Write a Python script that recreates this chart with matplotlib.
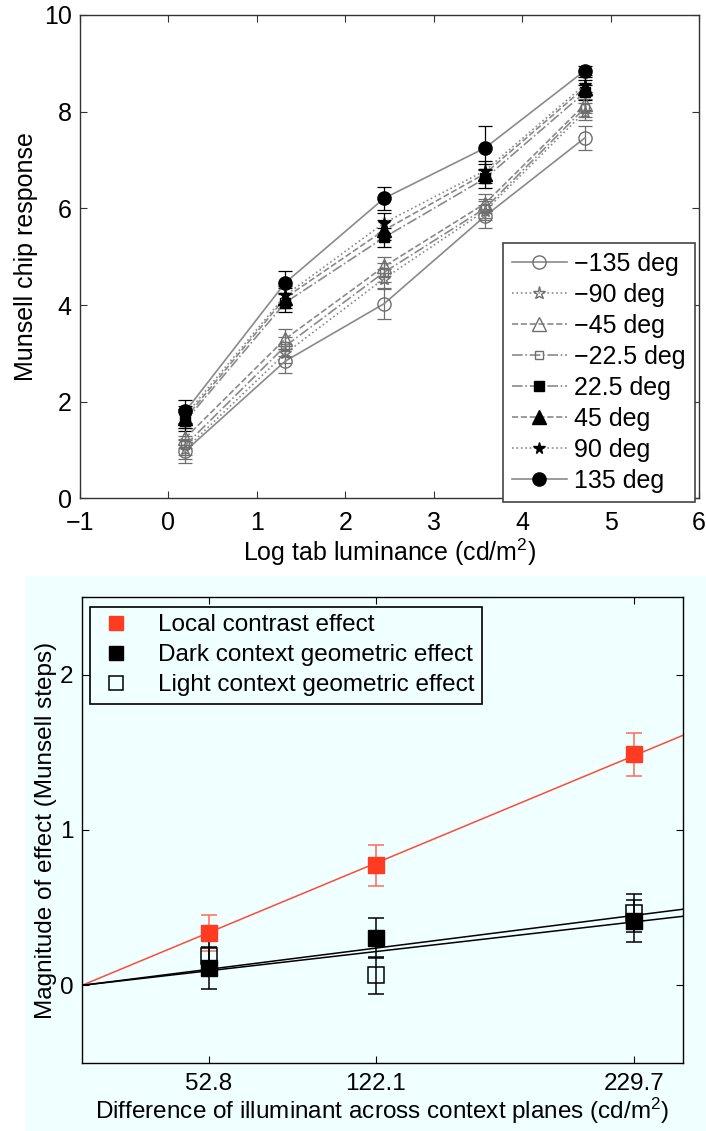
import numpy as np
import matplotlib
matplotlib.use("Agg")
import matplotlib.pyplot as plt
from matplotlib.patches import Rectangle

plt.rcParams["font.family"] = ["Liberation Sans", "DejaVu Sans"]
plt.rcParams["mathtext.default"] = "regular"

W, H = 706, 1131

# --- upper panel: Munsell matches vs tab luminance ---
lum = [0.19, 1.32, 2.44, 3.58, 4.71]
angles = ["\u2212135 deg", "\u221290 deg", "\u221245 deg", "\u221222.5 deg",
          "22.5 deg", "45 deg", "90 deg", "135 deg"]
resp_m135 = [0.98, 2.84, 4.03, 5.84, 7.46]
resp_m90 = [1.02, 3.00, 4.55, 5.95, 8.00]
resp_m45 = [1.25, 3.30, 4.80, 6.10, 8.15]
resp_m22 = [1.10, 3.15, 4.68, 6.00, 8.08]
resp_p22 = [1.60, 4.05, 5.40, 6.62, 8.40]
resp_p45 = [1.66, 4.15, 5.55, 6.72, 8.50]
resp_p90 = [1.72, 4.20, 5.70, 6.78, 8.56]
resp_p135 = [1.80, 4.46, 6.21, 7.25, 8.85]
err_m135 = [0.25, 0.25, 0.31, 0.24, 0.25]
err_m90 = [0.20, 0.20, 0.20, 0.20, 0.18]
err_m45 = [0.20, 0.20, 0.20, 0.20, 0.18]
err_m22 = [0.20, 0.20, 0.20, 0.20, 0.18]
err_p22 = [0.20, 0.20, 0.20, 0.20, 0.15]
err_p45 = [0.20, 0.20, 0.20, 0.20, 0.15]
err_p90 = [0.20, 0.20, 0.20, 0.20, 0.15]
err_p135 = [0.24, 0.24, 0.24, 0.45, 0.10]

# --- lower panel: effect size vs illuminant difference ---
illum = [52.8, 122.1, 229.7]
local_eff = [0.335, 0.773, 1.487]
local_err = [0.115, 0.132, 0.140]
dark_eff = [0.109, 0.305, 0.414]
dark_err = [0.135, 0.127, 0.135]
light_eff = [0.189, 0.064, 0.468]
light_err = [0.120, 0.120, 0.122]

GRAY = "#8a8a8a"
EDGE = "#6e6e6e"
RED = "#ff3b22"
CYAN = "#f0ffff"
FS = 18
FS2 = 17.5


def px_axes(fig, left, top, right, bottom):
    return fig.add_axes([left / W, 1 - bottom / H, (right - left) / W, (bottom - top) / H])


def matlab_ticks(ax, size, color="black"):
    ax.tick_params(direction="in", length=5, width=0.8, top=True, right=True,
                   labelsize=size, colors=color, labelcolor="black", pad=6)
    ax.tick_params(axis="x", pad=9)
    for s in ax.spines.values():
        s.set_color(color)
        s.set_linewidth(1.0)


fig = plt.figure(figsize=(W / 100, H / 100), dpi=100)
fig.patch.set_facecolor("white")
fig.patches.append(Rectangle((25 / W, 0), 1, (H - 576) / H, transform=fig.transFigure,
                             facecolor=CYAN, edgecolor="none", zorder=-5))

# upper panel
ax = px_axes(fig, 80, 15, 699, 498.5)
series = [
    (resp_m135, err_m135, "-", "o", "none", EDGE, 9.5),
    (resp_m90, err_m90, ":", "*", "none", EDGE, 9.5),
    (resp_m45, err_m45, "--", "^", "none", EDGE, 9.5),
    (resp_m22, err_m22, "-.", "s", "none", EDGE, 6),
    (resp_p22, err_p22, "-.", "s", "black", "black", 7),
    (resp_p45, err_p45, "--", "^", "black", "black", 9.5),
    (resp_p90, err_p90, ":", "*", "black", "black", 8.5),
    (resp_p135, err_p135, "-", "o", "black", "black", 9.5),
]
for (ys, es, ls, mk, fc, ec, ms), lab in zip(series, angles):
    ax.errorbar(lum, ys, yerr=es, fmt="none", ecolor=ec, elinewidth=0.9,
                capsize=5, capthick=0.9, zorder=3)
    ax.plot(lum, ys, linestyle=ls, color=GRAY, linewidth=1.2, marker=mk,
            markersize=ms, markerfacecolor=fc, markeredgecolor=ec,
            markeredgewidth=1.0, label=lab, zorder=4)

ax.set_xlim(-1, 6)
ax.set_ylim(0, 10)
ax.set_xticks(range(-1, 7))
ax.set_yticks(range(0, 11, 2))
matlab_ticks(ax, FS, color="#333333")
ax.set_xlabel("Log tab luminance (cd/m$^2$)", fontsize=FS, labelpad=1)
ax.set_ylabel("Munsell chip response", fontsize=FS, labelpad=4)
leg = ax.legend(loc="upper left", bbox_to_anchor=(503 / W, 1 - 243 / H),
                bbox_transform=fig.transFigure, fontsize=FS, frameon=True,
                fancybox=False, edgecolor="#444444", framealpha=1,
                handlelength=2.2, handletextpad=0.3, labelspacing=0.28,
                borderpad=0.35, borderaxespad=0)
leg.get_frame().set_linewidth(1.2)

# lower panel
bx = px_axes(fig, 82, 597, 683, 1063)
bx.set_facecolor(CYAN)
xfit = np.array([0, 250])
for ys, color in [(local_eff, "#ff4a38"), (dark_eff, "black"), (light_eff, "black")]:
    x = np.asarray(illum)
    slope = np.dot(x, ys) / np.dot(x, x)
    bx.plot(xfit, slope * xfit, color=color, linewidth=1.1, zorder=2)

bx.errorbar(illum, local_eff, yerr=local_err, fmt="none", ecolor="#ff6a5a",
            elinewidth=1.1, capsize=6, capthick=1.1, zorder=3)
bx.errorbar(illum, dark_eff, yerr=dark_err, fmt="none", ecolor="black",
            elinewidth=1.1, capsize=6, capthick=1.1, zorder=3)
bx.errorbar(illum, light_eff, yerr=light_err, fmt="none", ecolor="black",
            elinewidth=1.1, capsize=6, capthick=1.1, zorder=3)
bx.plot(illum, local_eff, linestyle="none", marker="s", markersize=12,
        markerfacecolor=RED, markeredgecolor=RED, label="Local contrast effect", zorder=5)
bx.plot(illum, dark_eff, linestyle="none", marker="s", markersize=12,
        markerfacecolor="black", markeredgecolor="black",
        label="Dark context geometric effect", zorder=5)
bx.plot(illum, light_eff, linestyle="none", marker="s", markersize=12,
        markerfacecolor="none", markeredgecolor="black", markeredgewidth=1.1,
        label="Light context geometric effect", zorder=4)

bx.set_xlim(0, 250)
bx.set_ylim(-0.5, 2.5)
bx.set_xticks(illum)
bx.set_xticklabels([f"{v:.1f}" for v in illum])
bx.set_yticks([0, 1, 2])
matlab_ticks(bx, FS2)
bx.tick_params(axis="x", pad=7)
bx.set_xlabel("Difference of illuminant across context planes (cd/m$^2$)",
              fontsize=FS2, labelpad=1)
bx.set_ylabel("Magnitude of effect (Munsell steps)", fontsize=FS2, labelpad=2)
leg2 = bx.legend(loc="upper left", bbox_to_anchor=(90 / W, 1 - 607 / H),
                 bbox_transform=fig.transFigure, fontsize=FS2, frameon=True,
                 fancybox=False, edgecolor="black", facecolor=CYAN, framealpha=1,
                 handlelength=1.5, handletextpad=1.0, labelspacing=0.33,
                 borderpad=0.3, borderaxespad=0, markerscale=0.8)
leg2.get_frame().set_linewidth(1.2)

fig.savefig("out.png", dpi=100)
